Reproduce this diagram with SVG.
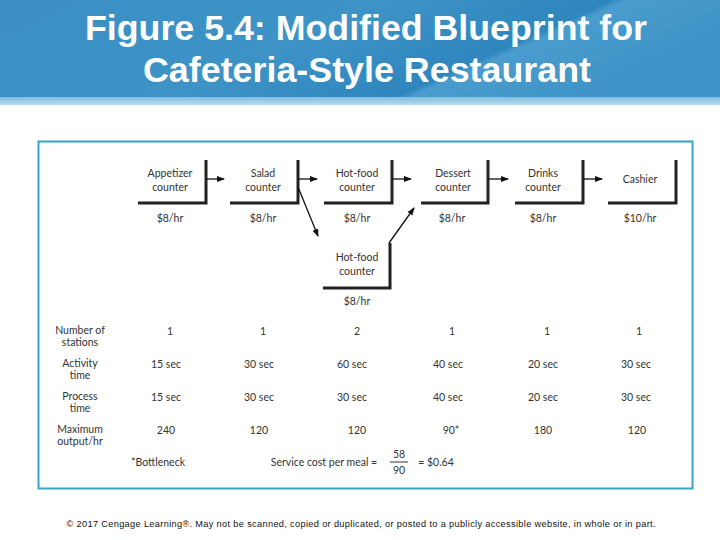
<svg xmlns="http://www.w3.org/2000/svg" width="720" height="540" viewBox="0 0 720 540">
<defs>
<linearGradient id="hdr" x1="0" y1="0" x2="1" y2="0.3">
<stop offset="0" stop-color="#3a8ec4"/>
<stop offset="0.5" stop-color="#3d93c6"/>
<stop offset="0.78" stop-color="#2f86bd"/>
<stop offset="0.8" stop-color="#4a9ccd"/>
<stop offset="1" stop-color="#3f95c8"/>
</linearGradient>
<linearGradient id="strip" x1="0" y1="0" x2="0" y2="1">
<stop offset="0" stop-color="#7fbde0"/>
<stop offset="1" stop-color="#b9dcef"/>
</linearGradient>
<marker id="ah" markerWidth="8" markerHeight="8" refX="7" refY="4" orient="auto" markerUnits="userSpaceOnUse">
<path d="M0,1 L8,4 L0,7 Z" fill="#111"/>
</marker>
<style>
.t{font-family:Lato,"Open Sans","Noto Sans",sans-serif;font-size:10.5px;fill:#333;text-anchor:middle}
.br{fill:none;stroke:#222;stroke-width:3}
.ln{stroke:#111;stroke-width:1.3;fill:none}
.title{font-family:"Liberation Sans",Arial,sans-serif;font-size:35px;font-weight:bold;fill:#fff;text-anchor:middle}
</style>
</defs>
<rect x="0" y="0" width="720" height="540" fill="#fff"/>
<rect x="0" y="0" width="720" height="97" fill="url(#hdr)"/>
<rect x="0" y="97" width="720" height="8" fill="url(#strip)"/>
<text class="title" x="366" y="40" textLength="562" lengthAdjust="spacingAndGlyphs">Figure 5.4: Modified Blueprint for</text>
<text class="title" x="367" y="82" textLength="448" lengthAdjust="spacingAndGlyphs">Cafeteria-Style Restaurant</text>

<rect x="38.5" y="141.5" width="654" height="347" fill="#fff" stroke="#3aa3cc" stroke-width="2"/>

<g id="appetizer">
<path class="br" d="M138,203 H206 V160"/>
<text class="t" x="170" y="177">Appetizer</text>
<text class="t" x="170" y="191">counter</text>
<text class="t" x="170" y="222">$8/hr</text>
</g>
<g id="salad">
<path class="br" d="M230,203 H298 V160"/>
<text class="t" x="263" y="177">Salad</text>
<text class="t" x="263" y="191">counter</text>
<text class="t" x="263" y="222">$8/hr</text>
</g>
<g id="hotfood1">
<path class="br" d="M324,203 H392 V160"/>
<text class="t" x="357" y="177">Hot-food</text>
<text class="t" x="357" y="191">counter</text>
<text class="t" x="357" y="222">$8/hr</text>
</g>
<g id="hotfood2">
<path class="br" d="M323,288 H390 V243"/>
<text class="t" x="357" y="261">Hot-food</text>
<text class="t" x="357" y="275">counter</text>
<text class="t" x="357" y="305">$8/hr</text>
</g>
<g id="dessert">
<path class="br" d="M421,203 H488 V160"/>
<text class="t" x="453" y="177">Dessert</text>
<text class="t" x="453" y="191">counter</text>
<text class="t" x="452" y="222">$8/hr</text>
</g>
<g id="drinks">
<path class="br" d="M515,203 H583 V160"/>
<text class="t" x="543" y="177">Drinks</text>
<text class="t" x="543" y="191">counter</text>
<text class="t" x="543" y="222">$8/hr</text>
</g>
<g id="cashier">
<path class="br" d="M608,203 H676 V160"/>
<text class="t" x="640" y="183">Cashier</text>
<text class="t" x="640" y="222">$10/hr</text>
</g>

<g id="connectors">
<line class="ln" x1="206" y1="179" x2="224" y2="179" marker-end="url(#ah)"/>
<line class="ln" x1="298" y1="179" x2="317" y2="179" marker-end="url(#ah)"/>
<line class="ln" x1="298" y1="187" x2="318" y2="236" marker-end="url(#ah)"/>
<line class="ln" x1="389" y1="243" x2="414" y2="208" marker-end="url(#ah)"/>
<line class="ln" x1="392" y1="179" x2="411" y2="179" marker-end="url(#ah)"/>
<line class="ln" x1="488" y1="179" x2="508" y2="179" marker-end="url(#ah)"/>
<line class="ln" x1="583" y1="179" x2="602" y2="179" marker-end="url(#ah)"/>
</g>

<g id="table">
<text class="t" x="80" y="334">Number of</text>
<text class="t" x="80" y="346">stations</text>
<text class="t" x="80" y="367">Activity</text>
<text class="t" x="80" y="379">time</text>
<text class="t" x="80" y="400">Process</text>
<text class="t" x="80" y="412">time</text>
<text class="t" x="80" y="433">Maximum</text>
<text class="t" x="80" y="445">output/hr</text>

<text class="t" x="170" y="335">1</text>
<text class="t" x="263" y="335">1</text>
<text class="t" x="357" y="335">2</text>
<text class="t" x="452" y="335">1</text>
<text class="t" x="547" y="335">1</text>
<text class="t" x="639" y="335">1</text>

<text class="t" x="166" y="368">15 sec</text>
<text class="t" x="259" y="368">30 sec</text>
<text class="t" x="352" y="368">60 sec</text>
<text class="t" x="448" y="368">40 sec</text>
<text class="t" x="543" y="368">20 sec</text>
<text class="t" x="636" y="368">30 sec</text>

<text class="t" x="166" y="401">15 sec</text>
<text class="t" x="259" y="401">30 sec</text>
<text class="t" x="352" y="401">30 sec</text>
<text class="t" x="448" y="401">40 sec</text>
<text class="t" x="543" y="401">20 sec</text>
<text class="t" x="636" y="401">30 sec</text>

<text class="t" x="166" y="434">240</text>
<text class="t" x="259" y="434">120</text>
<text class="t" x="357" y="434">120</text>
<text class="t" x="451" y="434">90*</text>
<text class="t" x="543" y="434">180</text>
<text class="t" x="637" y="434">120</text>

<text class="t" x="158" y="466">*Bottleneck</text>
<text class="t" x="324" y="466">Service cost per meal =</text>
<text class="t" x="399" y="458">58</text>
<line x1="390" y1="462" x2="408" y2="462" stroke="#333" stroke-width="1"/>
<text class="t" x="399" y="474">90</text>
<text class="t" x="436" y="466">= $0.64</text>
</g>

<text x="361" y="527" font-family="'Liberation Sans',Arial,sans-serif" font-size="9.2" fill="#111" text-anchor="middle" textLength="589" lengthAdjust="spacing">© 2017 Cengage Learning®. May not be scanned, copied or duplicated, or posted to a publicly accessible website, in whole or in part.</text>
</svg>
